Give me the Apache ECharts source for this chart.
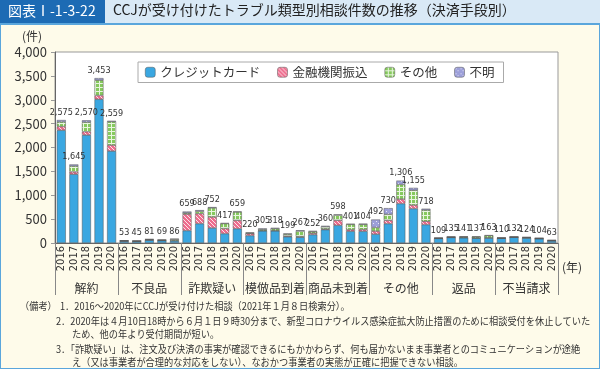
<!DOCTYPE html>
<html><head><meta charset="utf-8">
<script src="https://cdn.jsdelivr.net/npm/echarts@6/dist/echarts.min.js"></script>
<style>html,body{margin:0;padding:0;background:#fff}#c{width:600px;height:369px}</style>
</head><body><div id="c"></div>
<script>
const years = ['2016','2017','2018','2019','2020'];
const groups = ['解約','不良品','詐欺疑い','模倣品到着','商品未到着','その他','返品','不当請求'];
const seriesNames = ['クレジットカード','金融機関振込','その他','不明'];
// per group, 5 years each
const credit = [2360,1440,2260,3010,1925, 38,35,60,50,45, 260,405,315,197,300, 155,255,255,130,120, 175,280,370,245,245, 185,405,825,720,385, 95,115,110,100,105, 100,120,105,90,45];
const bank   = [80,50,70,80,125, 5,3,5,4,6, 345,210,230,105,175, 40,5,5,15,15, 30,15,105,35,40, 65,70,95,75,70, 2,3,5,5,5, 2,2,3,2,3];
const other  = [95,120,200,320,490, 5,5,10,10,30, 25,50,190,105,175, 15,25,40,40,115, 35,45,110,110,105, 75,125,305,310,235, 7,10,15,25,45, 4,5,10,8,8];
const unknown= [40,35,40,43,19, 5,2,6,5,5, 29,23,17,10,9, 10,20,18,14,17, 12,20,13,11,14, 167,130,81,50,28, 5,7,11,7,8, 4,5,6,4,7];
const totals = [2575,1645,2570,3453,2559, 53,45,81,69,86, 659,688,752,417,659, 220,305,318,199,267, 252,360,598,401,404, 492,730,1306,1155,718, 109,135,141,137,163, 110,132,124,104,63];

const cats = [];
groups.forEach(()=>years.forEach(y=>cats.push(y)));

function pat(n,draw){const c=document.createElement('canvas');c.width=n;c.height=n;const g=c.getContext('2d');draw(g);return {image:c,repeat:'repeat'};}
const pinkPat = pat(4,g=>{g.fillStyle='#ee6d8e';g.fillRect(0,0,4,4);g.strokeStyle='#fde3ea';g.lineWidth=1;for(let k=-4;k<=8;k+=4){g.beginPath();g.moveTo(k,0);g.lineTo(k+4,4);g.stroke();}});
const greenPat = pat(4,g=>{g.fillStyle='#86c95e';g.fillRect(0,0,4,4);g.fillStyle='#e9f6df';g.fillRect(0,3,4,1);g.fillRect(3,0,1,4);});
const purplePat = pat(5,g=>{g.fillStyle='#9c9fd9';g.fillRect(0,0,5,5);g.fillStyle='#e6e6f6';g.fillRect(1,1,1,1);g.fillRect(3,3,1,1);});
const colors = ['#3aa7e1', pinkPat, greenPat, purplePat];
const dataSets = [credit, bank, other, unknown];

const chart = echarts.init(document.getElementById('c'));
const fam = 'Noto Sans CJK JP';
const narrow = 'Liberation Sans Narrow, DejaVu Sans Condensed, sans-serif';
const series = dataSets.map((d,i)=>({
  name: seriesNames[i], type:'bar', stack:'s', data:d, barWidth:9,
  itemStyle:{color:colors[i], borderColor:'#555', borderWidth:0.5},
  label: i===3 ? {show:true, position:'top', distance:3, fontSize:9, color:'#333', fontFamily:narrow,
    formatter:p=>totals[p.dataIndex].toLocaleString('en-US')} : {show:false}
}));

const notes = [
  {x:20,y:301,t:'（備考）'},
  {x:60,y:301,t:'1．2016～2020年にCCJが受け付けた相談（2021年１月８日検索分）。'},
  {x:56,y:316,t:'2．2020年は４月10日18時から６月１日９時30分まで、新型コロナウイルス感染症拡大防止措置のために相談受付を休止していた'},
  {x:72,y:329,t:'ため、他の年より受付期間が短い。'},
  {x:56,y:344,t:'3．「詐欺疑い」は、注文及び決済の事実が確認できるにもかかわらず、何も届かないまま事業者とのコミュニケーションが途絶'},
  {x:72,y:357,t:'え（又は事業者が合理的な対応をしない）、なおかつ事業者の実態が正確に把握できない相談。'}
];

chart.setOption({
  animation:false,
  backgroundColor:'#fefbea',
  textStyle:{fontFamily:fam},
  graphic:[
    {type:'rect', shape:{x:0,y:0,width:600,height:24}, style:{fill:'#d9e9f6'}, z:-1},
    {type:'rect', shape:{x:0,y:0,width:105,height:24}, style:{fill:'#1d6bb4'}, z:-1},
    {type:'rect', shape:{x:0,y:24,width:600,height:345}, style:{fill:'none', stroke:'#5aa6dc', lineWidth:2}, z:-1},
    {type:'text', left:8, top:4, style:{text:'図表Ⅰ-1-3-22', fill:'#fff', font:'14px '+fam}},
    {type:'text', left:113, top:3, style:{text:'CCJが受け付けたトラブル類型別相談件数の推移（決済手段別）', fill:'#222', font:'14px '+fam}},
    {type:'text', left:22, top:30, style:{text:'(件)', fill:'#333', font:'12px '+fam}},
    {type:'text', left:562, top:261, style:{text:'(年)', fill:'#333', font:'12px '+fam}},
    ...notes.map(n=>({type:'text', x:n.x, y:n.y, scaleX:0.92, style:{text:n.t, fill:'#333', font:'10px '+fam}}))
  ],
  legend:{
    data:seriesNames, left:138, top:62, itemWidth:10, itemHeight:10, itemGap:17,
    padding:[4,9,4,7], borderColor:'#aaa', borderWidth:1, backgroundColor:'#fff',
    textStyle:{fontSize:12.5, color:'#333', fontFamily:fam},
    itemStyle:{borderColor:'#555', borderWidth:0.5}
  },
  grid:{left:55, right:42, top:52, bottom:126, show:true, backgroundColor:'#fff', borderColor:'#999', borderWidth:1},
  xAxis:[
    {type:'category', data:cats, axisLine:{lineStyle:{color:'#666'}}, axisTick:{length:4, lineStyle:{color:'#999'}},
     axisLabel:{rotate:90, fontSize:11, color:'#333', margin:3, interval:0, fontFamily:'DejaVu Sans Condensed'}},
    {type:'category', data:groups, position:'bottom', axisLine:{show:false},
     axisTick:{show:true, length:52, lineStyle:{color:'#888'}},
     axisLabel:{fontSize:12, color:'#333', margin:39, interval:0}}
  ],
  yAxis:{type:'value', min:0, max:4000, interval:500, splitLine:{show:false},
    axisLine:{show:true, lineStyle:{color:'#666'}}, axisTick:{show:true, length:4, lineStyle:{color:'#999'}},
    axisLabel:{fontSize:13, color:'#333', margin:8, formatter:v=>v.toLocaleString('en-US')}},
  series
});
</script></body></html>
